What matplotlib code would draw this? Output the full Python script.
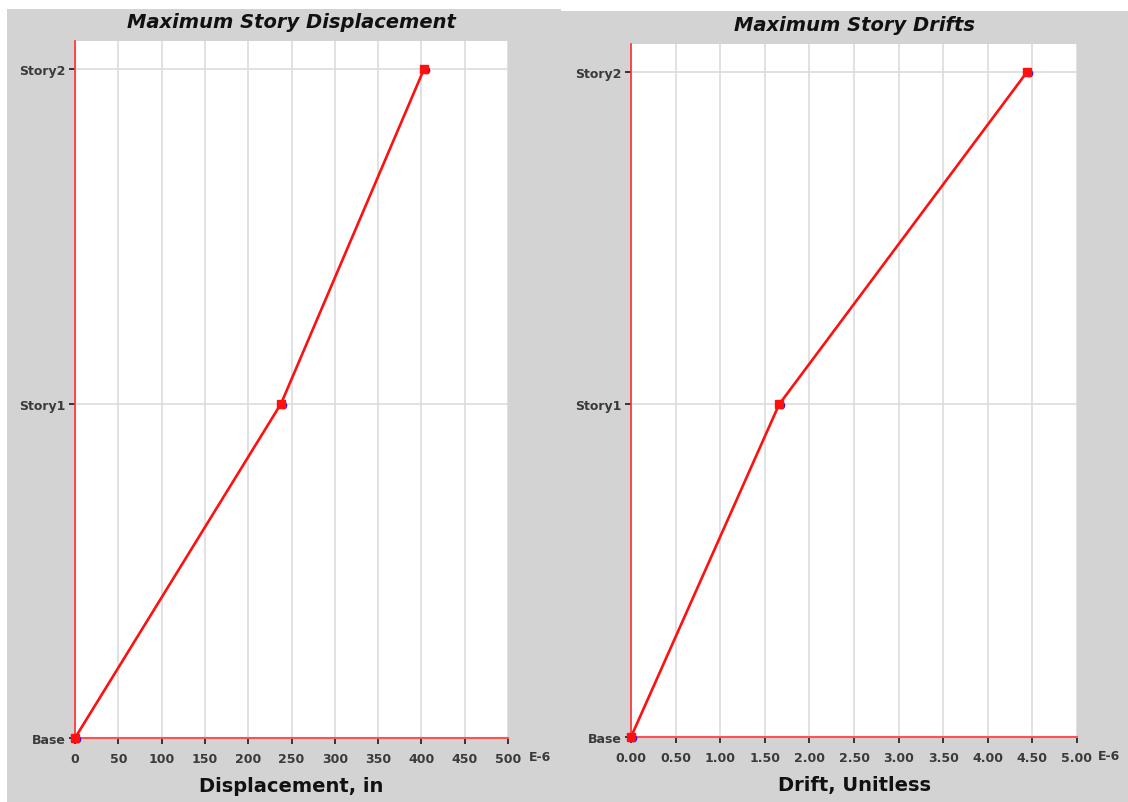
import numpy as np
import matplotlib
matplotlib.use('Agg')
import matplotlib.pyplot as plt
from matplotlib.patches import Rectangle
from matplotlib import transforms

plt.rcParams['font.family'] = ['DejaVu Sans']

# dados dos pisos
pisos = ['Base', 'Story1', 'Story2']
niveis = [0, 1, 2]
deslocamento = [0, 238, 403]      # E-6 in
deriva = [0.0, 1.66, 4.44]        # E-6

ticks_desl = np.arange(0, 501, 50)
ticks_der = np.arange(0, 5.01, 0.5)

W, H = 1128, 803
fig = plt.figure(figsize=(W / 100, H / 100), dpi=100)
fig.patch.set_facecolor('white')

cinza = '#d3d3d3'
fig.add_artist(Rectangle((7 / W, 0), (561 - 7) / W, (H - 10) / H,
                         transform=fig.transFigure, facecolor=cinza, edgecolor='none', zorder=0))
fig.add_artist(Rectangle((561 / W, 0), (W - 561) / W, (H - 12) / H,
                         transform=fig.transFigure, facecolor=cinza, edgecolor='none', zorder=0))


def grafico(ax, x, ticks, fmt, xmax, titulo, xlabel):
    ax.set_facecolor('white')
    ax.set_xlim(0, xmax)
    ax.set_ylim(0, 2.084)
    ax.set_xticks(ticks)
    ax.set_xticklabels([fmt.format(t) for t in ticks], fontweight='bold')
    ax.set_yticks(niveis)
    ax.set_yticklabels(pisos, fontweight='bold')
    ax.grid(True, color='#dcdcdc', linewidth=1.2)
    ax.set_axisbelow(True)
    for s in ['top', 'right']:
        ax.spines[s].set_visible(False)
    ax.spines['left'].set_color('#ff3030')
    ax.spines['bottom'].set_color('#ff5050')
    ax.spines['left'].set_linewidth(1.2)
    ax.spines['bottom'].set_linewidth(1.5)
    ax.tick_params(axis='both', colors='#1a1a1a', length=4, width=1.2,
                   labelsize=9, labelcolor='#3a3a3a')
    ax.tick_params(axis='x', pad=6)
    ax.tick_params(axis='y', pad=3)

    # marcadores azuis levemente deslocados
    desloc = transforms.offset_copy(ax.transData, fig=fig, x=2, y=-1, units='dots')
    ax.plot(x, niveis, 'o', color='#1a1aff', markersize=4.5, transform=desloc,
            clip_on=False, zorder=3)
    ax.plot(x, niveis, '-', color='#ff1010', linewidth=1.9, clip_on=False, zorder=4)
    ax.plot(x, niveis, 's', color='#ff1010', markersize=6, clip_on=False, zorder=5)

    ax.set_title(titulo, fontsize=14, fontweight='bold', fontstyle='italic',
                 color='#111111', pad=10)
    ax.set_xlabel(xlabel, fontsize=14, fontweight='bold', color='#111111', labelpad=8)
    ax.annotate('E-6', xy=(1, 0), xycoords='axes fraction', xytext=(15, -13),
                textcoords='offset points', fontsize=9, fontweight='bold',
                color='#3a3a3a', ha='left', va='center')


ax1 = fig.add_axes([75 / W, (H - 739) / H, 433 / W, (739 - 42) / H])
grafico(ax1, deslocamento, ticks_desl, '{:.0f}', 500,
        'Maximum Story Displacement', 'Displacement, in')

ax2 = fig.add_axes([631 / W, (H - 738) / H, 446 / W, (738 - 45) / H])
grafico(ax2, deriva, ticks_der, '{:.2f}', 5.0,
        'Maximum Story Drifts', 'Drift, Unitless')

plt.savefig('out.png', dpi=100)
